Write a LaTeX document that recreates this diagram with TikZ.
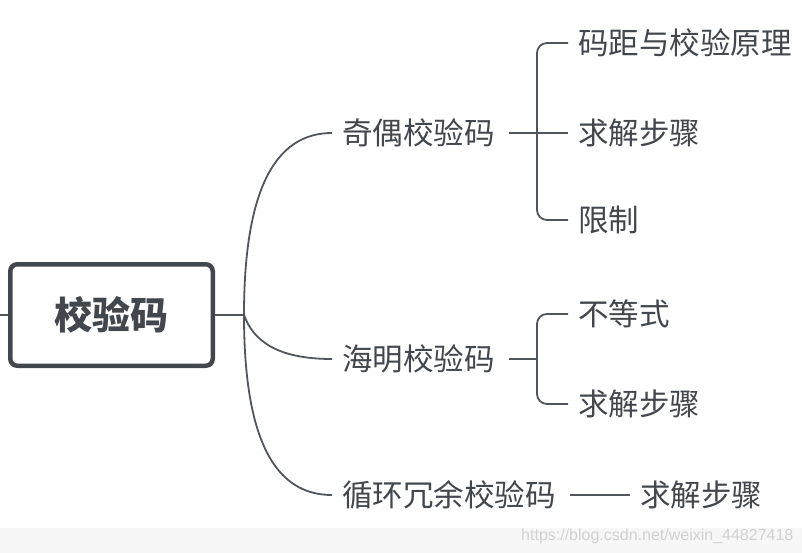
\documentclass[tikz,border=0pt]{standalone}
\usepackage{fontspec}
\usepackage{tikz}
\newfontfamily\cjk{Noto Sans CJK SC}
\setsansfont{Liberation Sans}
\definecolor{ink}{HTML}{42474D}
\definecolor{wire}{HTML}{51565C}

\begin{document}
\begin{tikzpicture}[x=1pt,y=-1pt]
\tikzstyle{every node} = [font = \cjk\fontsize{30.5}{34}\selectfont, text = ink]
\tikzstyle{item} = [anchor = west, inner xsep = 10pt, inner ysep = 0pt]
\tikzstyle{link} = [draw = wire, line width = 1.8pt]
\tikzstyle{bracket} = [link, rounded corners = 10pt]
%\useasboundingbox
\useasboundingbox (0,0) rectangle (802,553);
\fill[black!3] (0,528) rectangle (802,553);
\node [anchor = west, font = \sffamily\fontsize{16}{18}\selectfont, text = black!18, inner sep = 0pt] (wm) at (521,536) {https://blog.csdn.net/weixin\_44827418};

		\node [draw = ink, line width = 4.5pt, rounded corners = 7pt, minimum width = 202.5pt, minimum height = 101.5pt,
			font = \cjk\bfseries\fontsize{38}{42}\selectfont] (root) at (111.5,315) {校验码};
		\coordinate (lft) at (0,315);
		\coordinate (br) at (244,315);
		\node [item] (jo) at (332,133) {奇偶校验码};
		\node [item] (hm) at (332,359) {海明校验码};
		\node [item] (xh) at (332,495) {循环冗余校验码};
		% children
		\coordinate (job) at (537,133);
		\node [item] (jo1) at (568,43) {码距与校验原理};
		\node [item] (jo2) at (568,133) {求解步骤};
		\node [item] (jo3) at (568,220) {限制};
		\coordinate (hmb) at (537,359);
		\node [item] (hm1) at (568,314) {不等式};
		\node [item] (hm2) at (568,404) {求解步骤};
		\node [item] (xh1) at (630,495) {求解步骤};

		\draw [link] (lft) -- (root.west);
		\draw [link] (root.east) -- (br);
		\draw [link] (br) .. controls (244,190) and (275,133) .. (jo.west);
		\draw [link] (br) .. controls (253,340) and (276,359) .. (hm.west);
		\draw [link] (br) .. controls (244,440) and (275,495) .. (xh.west);

		\draw [link] ([xshift = 4pt]jo.east) -- (job);
		\draw [bracket] (jo1.west) -| (job) |- (jo3.west);
		\draw [link] (job) -- (jo2.west);
		\draw [link] ([xshift = 4pt]hm.east) -- (hmb);
		\draw [bracket] (hm1.west) -| (hmb) |- (hm2.west);
		\draw [link] ([xshift = 4pt]xh.east) -- (xh1.west);

\end{tikzpicture}
\end{document}
